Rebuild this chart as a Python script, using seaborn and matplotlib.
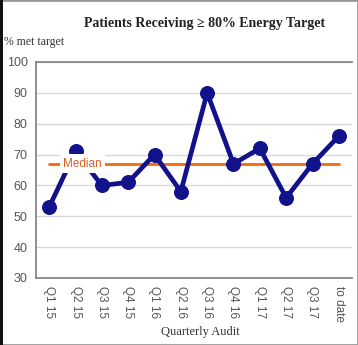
import numpy as np
import pandas as pd
import matplotlib
matplotlib.use("Agg")
import matplotlib.pyplot as plt
from matplotlib.patches import Rectangle
import seaborn as sns

quarters = ["Q1 15", "Q2 15", "Q3 15", "Q4 15", "Q1 16", "Q2 16",
            "Q3 16", "Q4 16", "Q1 17", "Q2 17", "Q3 17", "to date"]
pct_met = [53, 71, 60, 61, 70, 58, 90, 67, 72, 56, 67, 76]
median_val = 67

df = pd.DataFrame({"Quarter": quarters, "Pct": pct_met})
df["pos"] = range(len(df))

sns.set_style("white")
plt.rcParams["font.family"] = ["Liberation Sans", "DejaVu Sans"]

fig = plt.figure(figsize=(3.58, 3.45), dpi=100)
ax = fig.add_axes([36 / 358, (345 - 278) / 345, (352 - 36) / 358, (278 - 62) / 345])

# median line
ax.plot([0, len(quarters) - 1], [median_val, median_val], color="#f26a10", lw=2.0, zorder=2)
sns.lineplot(data=df, x="pos", y="Pct", ax=ax, color="#12128a", lw=3.4,
             marker="o", markersize=10, markeredgecolor="#12128a", zorder=4)
ax.text(1.27, median_val, "Median", color="#d5602a", fontsize=8.5, ha="center", va="center",
        bbox=dict(boxstyle="square,pad=0.3", facecolor="white", edgecolor="none"), zorder=5)

ax.set_xlim(-0.5, len(quarters) - 0.5)
ax.set_ylim(30, 100)
ax.set_yticks(range(30, 101, 10))
ax.set_xticks(range(len(quarters)))
ax.set_xticklabels(quarters, rotation=-90, fontsize=8.5, color="#555555")
ax.set_xticks(np.arange(-0.5, len(quarters), 1), minor=True)
ax.tick_params(axis="x", which="major", length=0, pad=6)
ax.tick_params(axis="x", which="minor", length=3, color="#777777", direction="out")
ax.tick_params(axis="y", labelsize=9, labelcolor="#555555", length=3, color="#777777",
               direction="out", pad=3)
ax.yaxis.grid(True, color="#d9d9d9", lw=1)
ax.set_axisbelow(True)

for s in ["left", "bottom", "top"]:
    ax.spines[s].set_color("#888888")
    ax.spines[s].set_linewidth(1.3)
ax.spines["right"].set_visible(False)

ax.set_xlabel("")
ax.set_ylabel("")

fig.text(205 / 358, 1 - 24 / 345, "Patients Receiving \u2265 80% Energy Target",
         family="Liberation Serif", fontsize=10, fontweight="bold", ha="center", va="center",
         color="#222222")
fig.text(4 / 358, 1 - 42 / 345, "% met target", family="Liberation Serif", fontsize=8.5,
         ha="left", va="center", color="#333333")
fig.text(200 / 358, 1 - 332 / 345, "Quarterly Audit", family="Liberation Serif", fontsize=9,
         ha="center", va="center", color="#333333")

# outer frame
fig.patches.append(Rectangle((0, 0), 1, 1, transform=fig.transFigure, fill=False,
                             edgecolor="#999999", lw=2))
fig.patches.append(Rectangle((0, 0), 3 / 358, 1, transform=fig.transFigure,
                             facecolor="#111111", edgecolor="none"))

fig.savefig("out.png", dpi=100)
